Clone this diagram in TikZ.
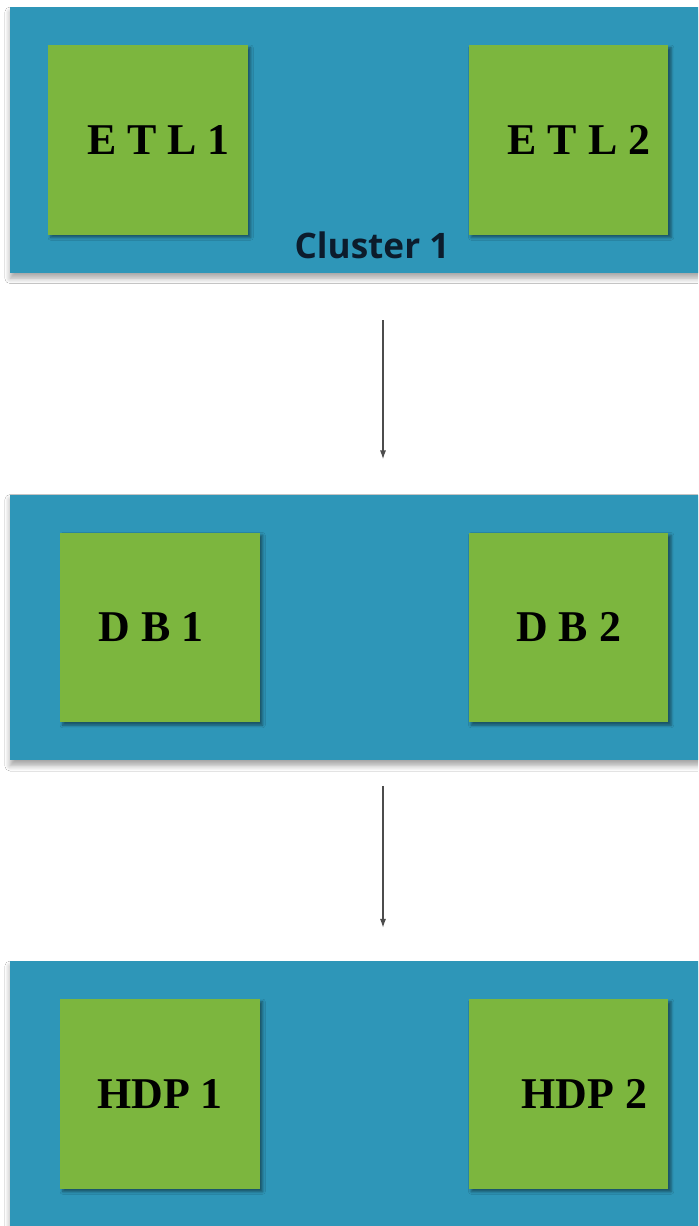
\documentclass[tikz,border=0pt]{standalone}
\usepackage{fontspec}
\setmainfont{Liberation Serif}
\newfontfamily\tagfont{Open Sans}
\usetikzlibrary{calc,positioning,shadows.blur,arrows.meta}

\definecolor{clusterblue}{RGB}{46,150,184}
\definecolor{hostgreen}{RGB}{124,182,62}
\definecolor{tagnavy}{RGB}{12,28,44}

\tikzset{
	cluster/.style={fill=clusterblue, inner sep=0pt, minimum width=14.92cm, minimum height=5.32cm,
		blur shadow={shadow xshift=0pt, shadow yshift=-3pt, shadow blur radius=3pt,
			shadow blur steps=6, shadow opacity=35}},
	host/.style={fill=hostgreen, inner sep=0pt, minimum width=4cm, minimum height=3.8cm,
		font=\fontsize{25}{30}\selectfont\bfseries,
		blur shadow={shadow xshift=1.5pt, shadow yshift=-1.5pt, shadow blur radius=1.5pt,
			shadow blur steps=4, shadow opacity=45}},
	tag/.style={font=\tagfont\bfseries\fontsize{20}{24}\selectfont, text=tagnavy, inner sep=0pt},
	flow/.style={draw=black!70, line width=0.7pt, -{Latex[length=5pt,width=3.5pt]}}
}

\begin{document}
\begin{tikzpicture}[x=0.02cm, y=-0.02cm]
		%%%%% START %%%%%
		\clip (0, 0) rectangle (698, 1226);
		\fill[white] (0, 0) rectangle (698, 1226);
		
		% three clusters, running off the right edge
		\node[cluster] (cluster1) at (383, 140) {};
		\node[cluster] (cluster2) at (383, 627.5) {};
		\node[cluster] (cluster3) at (383, 1094) {};
		
		% ETL hosts
		\node[host] (etl1) at (148, 140) {\hspace*{12pt}E T L 1};
		\node[host] (etl2) at (568.5, 140) {\hspace*{12pt}E T L 2};
		\node[tag] (tag1) at ($(cluster1.south)+(-11, -28)$) {Cluster 1};
		
		% DB hosts
		\node[host] (db1) at (160, 627.5) {D B 1\hspace*{10pt}};
		\node[host] (db2) at (568.5, 627.5) {D B 2};
		
		% HDP hosts
		\node[host] (hdp1) at (160, 1094) {HDP 1};
		\node[host] (hdp2) at (568.5, 1094) {\hspace*{18pt}HDP 2};
		
		\draw[flow, shorten <=0.94cm, shorten >=0.70cm] (cluster1) -- (cluster2);
		\draw[flow, shorten <=0.50cm, shorten >=0.66cm] (cluster2) -- (cluster3);
		%%%%% END %%%%%
	\end{tikzpicture}
\end{document}
